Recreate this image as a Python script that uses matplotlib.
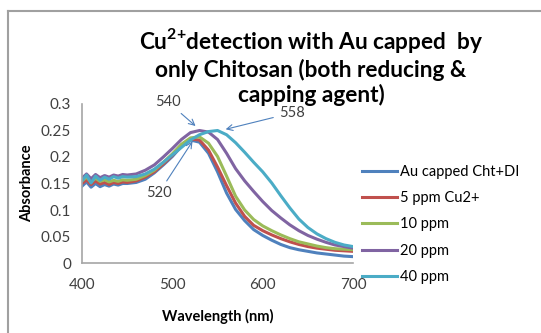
import numpy as np
import matplotlib.pyplot as plt
from matplotlib.lines import Line2D

plt.rcParams['font.family'] = ['Lato', 'DejaVu Sans']
plt.rcParams['mathtext.fontset'] = 'custom'
plt.rcParams['mathtext.rm'] = 'Lato'
plt.rcParams['mathtext.bf'] = 'Lato:bold'

# Wavelength (nm)
wl = [400, 405, 410, 415, 420, 425, 430, 435, 440, 445, 450,
      460, 470, 480, 490, 500, 510, 520, 530, 540, 550, 560, 570, 580, 590,
      600, 610, 620, 630, 640, 650, 660, 670, 680, 690, 700]

# Absorbance
au_cht = [0.145, 0.153, 0.143, 0.150, 0.144, 0.148, 0.145, 0.149, 0.147, 0.150, 0.150,
          0.152, 0.158, 0.170, 0.185, 0.201, 0.220, 0.232, 0.228, 0.207, 0.172, 0.132, 0.101, 0.080, 0.063,
          0.052, 0.043, 0.035, 0.029, 0.025, 0.022, 0.019, 0.017, 0.015, 0.013, 0.012]
ppm5 = [0.150, 0.157, 0.148, 0.155, 0.149, 0.152, 0.148, 0.152, 0.150, 0.153, 0.152,
        0.155, 0.162, 0.172, 0.187, 0.203, 0.222, 0.234, 0.232, 0.213, 0.181, 0.146, 0.113, 0.088, 0.071,
        0.061, 0.053, 0.046, 0.040, 0.035, 0.031, 0.028, 0.026, 0.024, 0.023, 0.022]
ppm10 = [0.155, 0.162, 0.153, 0.160, 0.154, 0.157, 0.153, 0.156, 0.154, 0.157, 0.156,
         0.158, 0.165, 0.175, 0.190, 0.206, 0.224, 0.236, 0.238, 0.226, 0.201, 0.164, 0.126, 0.100, 0.082,
         0.070, 0.061, 0.053, 0.046, 0.040, 0.036, 0.032, 0.029, 0.027, 0.026, 0.025]
ppm20 = [0.160, 0.168, 0.159, 0.167, 0.161, 0.165, 0.162, 0.166, 0.164, 0.167, 0.166,
         0.168, 0.175, 0.185, 0.200, 0.216, 0.233, 0.246, 0.250, 0.247, 0.233, 0.207, 0.178, 0.155, 0.135,
         0.116, 0.099, 0.085, 0.072, 0.061, 0.052, 0.045, 0.039, 0.034, 0.031, 0.028]
ppm40 = [0.155, 0.166, 0.151, 0.164, 0.156, 0.162, 0.158, 0.163, 0.160, 0.163, 0.162,
         0.163, 0.168, 0.177, 0.190, 0.204, 0.218, 0.232, 0.242, 0.248, 0.250, 0.242, 0.227, 0.209, 0.190,
         0.172, 0.151, 0.127, 0.104, 0.083, 0.067, 0.055, 0.046, 0.039, 0.034, 0.031]

labels = ['Au capped Cht+DI', '5 ppm Cu2+', '10 ppm', '20 ppm', '40 ppm']
colors = ['#4F81BD', '#C0504D', '#9BBB59', '#8064A2', '#4BACC6']
series = [au_cht, ppm5, ppm10, ppm20, ppm40]

fig = plt.figure(figsize=(5.41, 3.33), dpi=100)
ax = fig.add_axes([0.1516, 0.2102, 0.501, 0.4775])

for ys, lab, col in zip(series, labels, colors):
    ax.plot(wl, ys, color=col, lw=2.2, label=lab)

ax.set_xlim(400, 700)
ax.set_ylim(0, 0.3)
ax.set_xticks([400, 500, 600, 700])
ax.set_yticks([0, 0.05, 0.1, 0.15, 0.2, 0.25, 0.3])
ax.set_yticklabels(['0', '0.05', '0.1', '0.15', '0.2', '0.25', '0.3'])
ax.tick_params(length=0, labelsize=11, colors='#404040', pad=8)
ax.tick_params(axis='x', pad=11)
for s in ['top', 'right']:
    ax.spines[s].set_visible(False)
for s in ['left', 'bottom']:
    ax.spines[s].set_color('#A6A6A6')
    ax.spines[s].set_linewidth(1.2)

ax.set_xlabel('Wavelength (nm)', fontsize=10.5, fontweight='bold', labelpad=12)
ax.set_ylabel('Absorbance', fontsize=10.5, fontweight='bold', labelpad=5)

fig.text(0.575, 0.922, 'Cu$^{\\mathbf{2{+}}}$detection with Au capped  by\nonly Chitosan (both reducing &\ncapping agent)',
         ha='center', va='top', fontsize=16.3, fontweight='bold', linespacing=1.2)

arrow = dict(arrowstyle='->', color='#4F81BD', lw=0.8)
ax.annotate('540', xy=(528, 0.255), xytext=(495, 0.304), ha='center', va='center',
            fontsize=10.5, color='#404040', arrowprops=arrow, annotation_clip=False)
ax.annotate('520', xy=(524, 0.234), xytext=(485, 0.132), ha='center', va='center',
            fontsize=10.5, color='#404040', arrowprops=arrow)
ax.annotate('558', xy=(556, 0.251), xytext=(632, 0.283), ha='center', va='center',
            fontsize=10.5, color='#404040', arrowprops=arrow)

ax.legend(loc='center left', bbox_to_anchor=(0.669, 0.326), bbox_transform=fig.transFigure,
          frameon=False, fontsize=10.5, handlelength=2.4, handletextpad=0.2,
          labelspacing=0.85, borderpad=0, borderaxespad=0)

# outer chart border
fig.add_artist(Line2D([8 / 541, 1], [1 - 11 / 333, 1 - 11 / 333], color='#A0A0A0', lw=1.5))
fig.add_artist(Line2D([8 / 541, 8 / 541], [0, 1 - 11 / 333], color='#A0A0A0', lw=1.5))

fig.savefig('out.png', dpi=100)
